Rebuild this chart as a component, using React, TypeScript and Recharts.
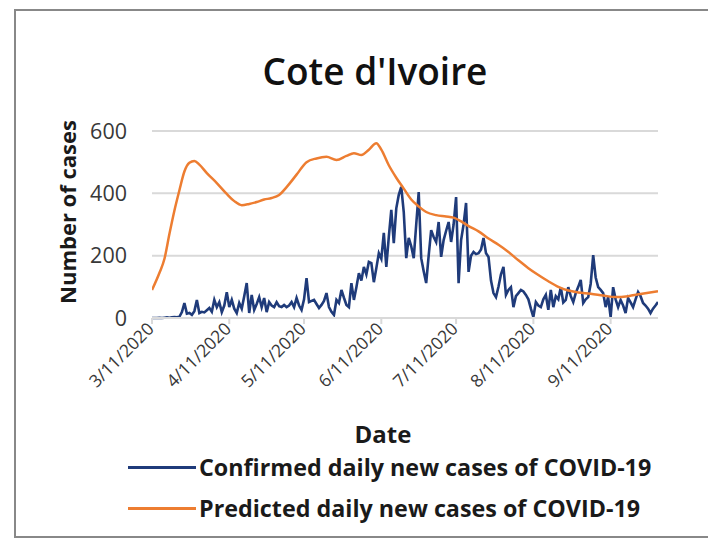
import React from 'react';
import { LineChart, Line, XAxis, YAxis, CartesianGrid, Legend } from 'recharts';

// x positions are days counted from 3/11/2020
const tickDays = [0, 31, 61, 92, 122, 153, 184];
const tickLabels = ['3/11/2020', '4/11/2020', '5/11/2020', '6/11/2020', '7/11/2020', '8/11/2020', '9/11/2020'];
const yTicks = [0, 200, 400, 600];

// confirmed daily new cases, one value per day (3/11 .. 9/30)
const confirmedDaily = [
  0, 0, 0, 1, 0, 1, 2, 1, 2, 3,
  2, 4, 19, 48, 14, 16, 10, 22, 58, 16,
  20, 18, 25, 32, 20, 58, 35, 51, 19, 40,
  83, 35, 58, 30, 16, 48, 30, 70, 112, 16,
  74, 26, 45, 67, 35, 64, 19, 51, 40, 35,
  51, 38, 35, 42, 35, 40, 51, 35, 64, 40,
  26, 60, 128, 51, 55, 58, 45, 32, 42, 55,
  80, 35, 20, 10, 58, 48, 90, 65, 42, 35,
  112, 58, 99, 144, 120, 164, 140, 180, 176, 115,
  160, 208, 190, 273, 164, 260, 347, 240, 352, 395,
  421, 340, 192, 257, 230, 192, 300, 404, 192, 150,
  112, 200, 282, 260, 244, 308, 196, 250, 280, 308,
  244, 300, 388, 112, 250, 300, 369, 148, 200, 212,
  205, 208, 220, 257, 208, 196, 120, 80, 67, 100,
  140, 164, 74, 90, 99, 35, 70, 80, 90, 85,
  74, 60, 30, 3, 51, 40, 35, 60, 74, 26,
  90, 35, 70, 60, 99, 50, 58, 99, 70, 51,
  80, 100, 122, 48, 60, 67, 110, 202, 130, 99,
  90, 80, 35, 67, 3, 99, 60, 35, 58, 40,
  16, 64, 50, 35, 60, 83, 70, 48, 40, 30,
  16, 30, 40, 51,
];

// predicted curve, read at a set of days
const predictedDays = [
  0, 3, 5, 7, 9, 11, 13, 15, 17, 19,
  22, 26, 30, 33, 36, 39, 42, 45, 48, 51,
  54, 58, 62, 66, 70, 74, 78, 81, 84, 87,
  90, 92, 95, 98, 101, 104, 107, 110, 114, 118,
  121, 124, 127, 131, 135, 139, 143, 147, 151, 155,
  159, 163, 167, 171, 176, 181, 186, 191, 196, 203,
];
const predictedValues = [
  90, 145, 190, 270, 345, 410, 470, 498, 504, 492,
  465, 433, 398, 375, 362, 366, 372, 380, 385, 395,
  420, 460, 500, 512, 517, 507, 520, 529, 523, 540,
  561, 540, 490, 450, 415, 380, 358, 340, 330, 326,
  322, 310, 295, 278, 255, 235, 212, 185, 160, 138,
  118, 100, 88, 82, 78, 72, 67, 70, 77, 86,
];

const confirmedData = confirmedDaily.map((v, i) => ({ day: i, value: v }));
const predictedData = predictedDays.map((d, i) => ({ day: d, value: predictedValues[i] }));

const FONT = "'Open Sans', sans-serif";
const BLUE = '#1f3b7a';
const ORANGE = '#ed7d31';
const GRID = '#d9d9d9';

const DateTick = ({ x, y, payload }: any) => {
  const idx = tickDays.indexOf(payload.value);
  return (
    <g transform={`translate(${x + 3},${y + 4})`}>
      <text textAnchor="end" transform="rotate(-45)" fontSize={17.5} fill="#383838" fontFamily={FONT}>
        {tickLabels[idx]}
      </text>
    </g>
  );
};

const renderLegend = ({ payload }: any) => (
  <div>
    {(payload || []).map((entry: any) => (
      <div key={entry.value} style={{ display: 'flex', alignItems: 'center', height: 41 }}>
        <span style={{ display: 'inline-block', width: 68, height: 3, background: entry.color, marginRight: 3 }} />
        <span style={{ fontFamily: FONT, fontWeight: 700, fontSize: 23.3, lineHeight: 1, color: '#1a1a1a', whiteSpace: 'nowrap' }}>
          {entry.value}
        </span>
      </div>
    ))}
  </div>
);

export default function App() {
  return (
    <div style={{ position: 'absolute', left: 0, top: 0, width: 708, height: 539, overflow: 'hidden', background: '#fff' }}>
      <div
        style={{
          position: 'absolute', left: 14, top: 9, width: 720, height: 525,
          border: '2px solid #888', borderRight: 'none',
        }}
      />
      <div
        style={{
          position: 'absolute', left: 175, top: 52, width: 400, textAlign: 'center',
          fontFamily: FONT, fontWeight: 600, fontSize: 37, lineHeight: 1, color: '#111',
        }}
      >
        Cote d'Ivoire
      </div>
      <div
        style={{
          position: 'absolute', left: 66.5 - 150, top: 212 - 11, width: 300, height: 22,
          textAlign: 'center', transform: 'rotate(-90deg)',
          fontFamily: FONT, fontWeight: 700, fontSize: 22, lineHeight: '22px', color: '#1a1a1a',
        }}
      >
        Number of cases
      </div>
      <div
        style={{
          position: 'absolute', left: 283, top: 422, width: 200, textAlign: 'center',
          fontFamily: FONT, fontWeight: 700, fontSize: 24, lineHeight: 1, color: '#1a1a1a',
        }}
      >
        Date
      </div>
      <div style={{ position: 'absolute', left: 0, top: 0 }}>
        <LineChart width={708} height={539} margin={{ top: 131, right: 50, bottom: 191, left: 92 }}>
          <CartesianGrid horizontal vertical={false} stroke={GRID} strokeWidth={2} />
          <XAxis
            dataKey="day"
            type="number"
            domain={[0, 203]}
            ticks={tickDays}
            interval={0}
            height={30}
            axisLine={{ stroke: GRID, strokeWidth: 2 }}
            tickLine={{ stroke: GRID, strokeWidth: 2 }}
            tickSize={6}
            tickMargin={2}
            tick={<DateTick />}
            allowDataOverflow
          />
          <YAxis
            type="number"
            domain={[0, 600]}
            ticks={yTicks}
            width={60}
            axisLine={false}
            tickLine={false}
            tickSize={0}
            tickMargin={25}
            tick={{ fontSize: 21.5, fill: '#383838', fontFamily: FONT }}
          />
          <Legend
            layout="vertical"
            align="center"
            verticalAlign="middle"
            content={renderLegend}
            wrapperStyle={{ left: 128, top: 447, width: 575 }}
          />
          <Line
            data={confirmedData}
            dataKey="value"
            name="Confirmed daily new cases of COVID-19"
            type="linear"
            stroke={BLUE}
            strokeWidth={2.6}
            dot={false}
            isAnimationActive={false}
          />
          <Line
            data={predictedData}
            dataKey="value"
            name="Predicted daily new cases of COVID-19"
            type="monotone"
            stroke={ORANGE}
            strokeWidth={2.5}
            dot={false}
            isAnimationActive={false}
          />
        </LineChart>
      </div>
    </div>
  );
}
